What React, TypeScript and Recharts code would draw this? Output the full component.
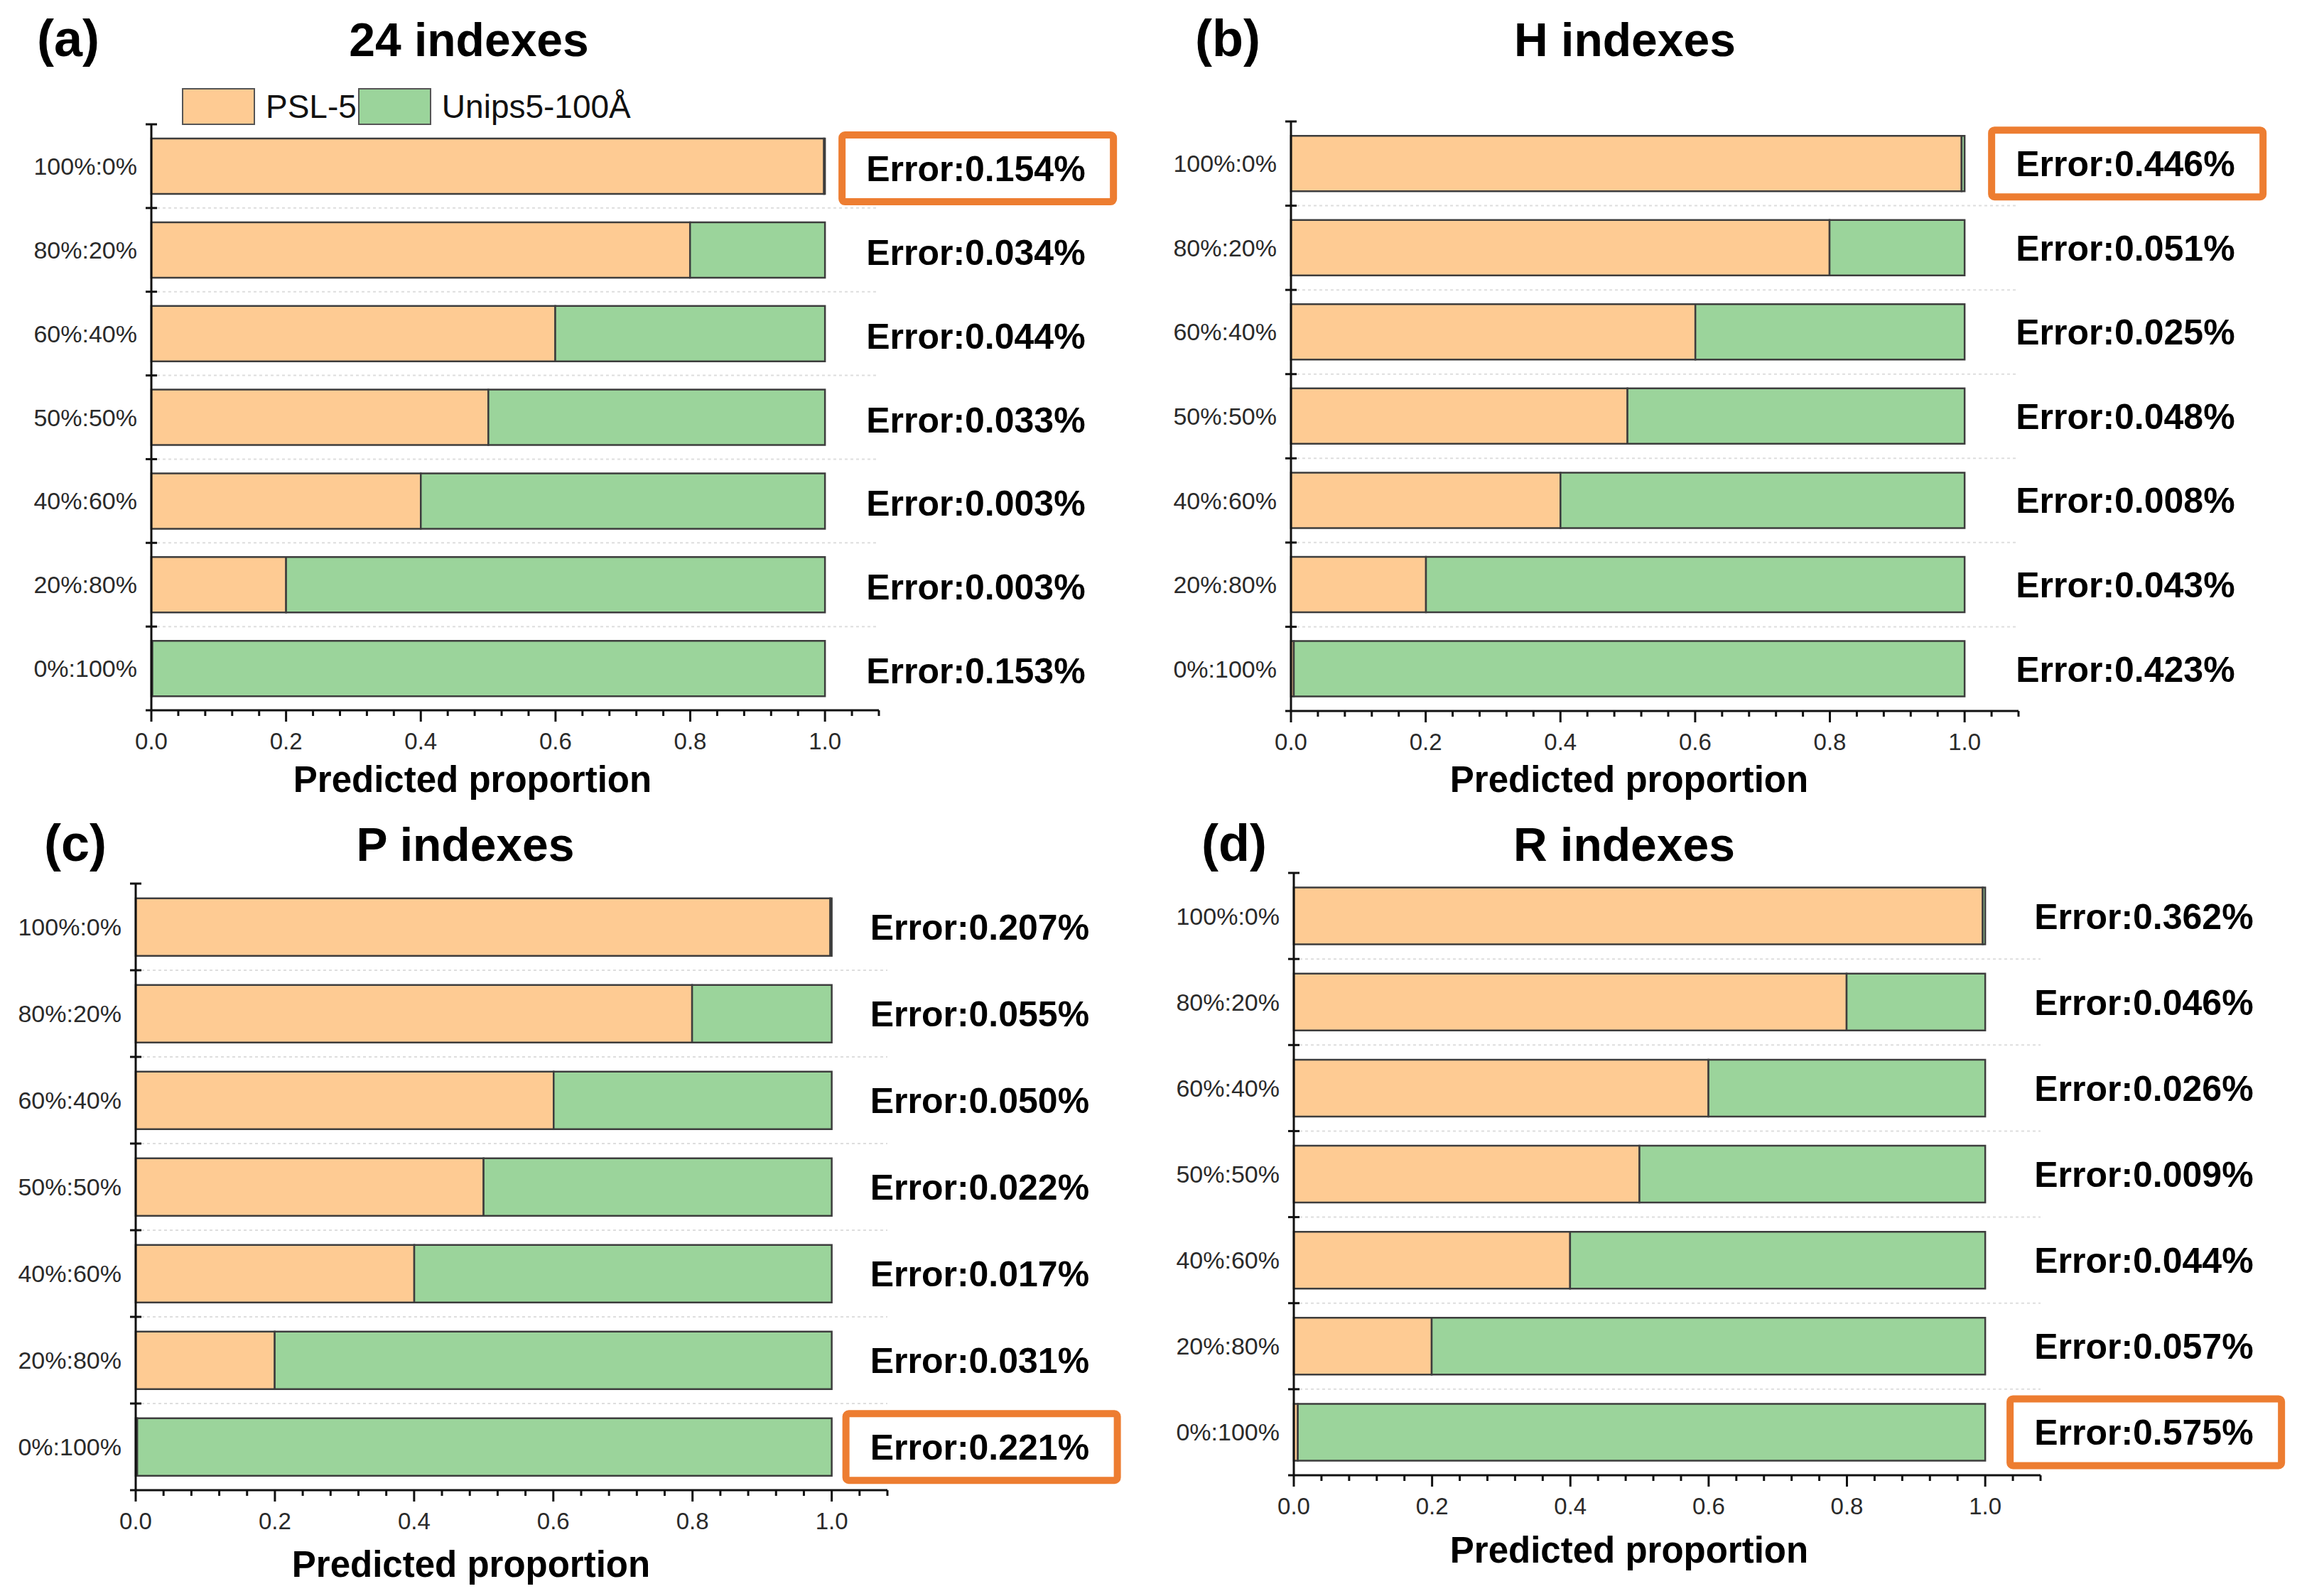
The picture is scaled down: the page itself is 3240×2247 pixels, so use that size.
import React from "react";
import { BarChart, Bar, XAxis, YAxis, CartesianGrid, LabelList, Legend } from "recharts";

// mixing ratios, top row first
const ratios = ["100%:0%", "80%:20%", "60%:40%", "50%:50%", "40%:60%", "20%:80%", "0%:100%"];

// predicted proportions and errors, one set per panel
const pslA = [0.9985, 0.7997, 0.5996, 0.5003, 0.4, 0.2, 0.0015];
const unipsA = [0.0015, 0.2003, 0.4004, 0.4997, 0.6, 0.8, 0.9985];
const errA = [0.154, 0.034, 0.044, 0.033, 0.003, 0.003, 0.153];

const pslB = [0.9955, 0.7995, 0.6003, 0.4995, 0.4001, 0.2004, 0.0042];
const unipsB = [0.0045, 0.2005, 0.3997, 0.5005, 0.5999, 0.7996, 0.9958];
const errB = [0.446, 0.051, 0.025, 0.048, 0.008, 0.043, 0.423];

const pslC = [0.9979, 0.7994, 0.6005, 0.4998, 0.4002, 0.1997, 0.0022];
const unipsC = [0.0021, 0.2006, 0.3995, 0.5002, 0.5998, 0.8003, 0.9978];
const errC = [0.207, 0.055, 0.05, 0.022, 0.017, 0.031, 0.221];

const pslD = [0.9964, 0.7995, 0.5997, 0.4999, 0.3996, 0.1994, 0.0058];
const unipsD = [0.0036, 0.2005, 0.4003, 0.5001, 0.6004, 0.8006, 0.9942];
const errD = [0.362, 0.046, 0.026, 0.009, 0.044, 0.057, 0.575];

const xTicks = [
  0, 0.04, 0.08, 0.12, 0.16, 0.2, 0.24, 0.28, 0.32, 0.36, 0.4, 0.44, 0.48, 0.52,
  0.56, 0.6, 0.64, 0.68, 0.72, 0.76, 0.8, 0.84, 0.88, 0.92, 0.96, 1.0, 1.04, 1.08,
];

const FONT = '"Liberation Sans", Arial, Helvetica, sans-serif';
const ORANGE = "#FECB93";
const GREEN = "#9BD49B";
const EDGE = "#3d3d3d";
const AXIS = "#111";
const HIGHLIGHT = "#ED7D31";

const Y_W = 190;
const M_TOP = 80;
const M_RIGHT = 360;
const X_H = 160;
const X_MAX = 1.08;

const XTick = (props: any) => {
  const { x, y, payload } = props;
  const v = payload.value;
  const major = Math.round(v * 100) % 20 === 0;
  return (
    <g>
      <line x1={x} x2={x} y1={y} y2={y + (major ? 16 : 8)} stroke={AXIS} strokeWidth={3} />
      {major && (
        <text x={x} y={y + 55} textAnchor="middle" fontSize={33} fill="#2a2a2a" fontFamily={FONT}>
          {v.toFixed(1)}
        </text>
      )}
    </g>
  );
};

const makeYTick = (band: number, n: number) => (props: any) => {
  const { x, y, payload, index } = props;
  const top = y - band / 2;
  return (
    <g>
      <line x1={x - 8} x2={x + 8} y1={top} y2={top} stroke={AXIS} strokeWidth={3} />
      {index === n - 1 && (
        <line x1={x - 8} x2={x} y1={y + band / 2} y2={y + band / 2} stroke={AXIS} strokeWidth={3} />
      )}
      <text x={x - 20} y={y + 12} textAnchor="end" fontSize={34} fill="#2a2a2a" fontFamily={FONT}>
        {payload.value}
      </text>
    </g>
  );
};

const makeErrLabel = (dx: number, dy: number, worst: number) => (props: any) => {
  const vb = props.viewBox || {};
  const x = props.x ?? vb.x;
  const y = props.y ?? vb.y;
  const w = props.width ?? vb.width;
  const h = props.height ?? vb.height;
  const tx = x + w + dx;
  const cy = y + h / 2 + dy;
  return (
    <g>
      {props.index === worst && (
        <rect x={tx - 34} y={cy - 47} width={382} height={94} rx={4} fill="none" stroke={HIGHLIGHT} strokeWidth={10} />
      )}
      <text x={tx} y={cy + 18} fontSize={50} fontWeight="bold" fontFamily={FONT} fill="#000">
        {`Error:${Number(props.value).toFixed(3)}%`}
      </text>
    </g>
  );
};

const LegendContent = (props: any) => (
  <div style={{ display: "flex", alignItems: "center", fontFamily: FONT, fontSize: 46, color: "#111", lineHeight: 1 }}>
    {(props.payload || []).map((e: any, i: number) => (
      <React.Fragment key={i}>
        <span
          style={{
            display: "inline-block",
            width: 103,
            height: 52,
            background: e.color,
            border: "2px solid #555",
            boxSizing: "border-box",
            marginLeft: i ? 2 : 0,
          }}
        />
        <span style={{ marginLeft: 15, whiteSpace: "nowrap" }}>{e.value}</span>
      </React.Fragment>
    ))}
  </div>
);

type PanelProps = {
  psl: number[];
  unips: number[];
  errors: number[];
  plotLeft: number;
  plotTop: number;
  plotBottom: number;
  unit: number;
  labelDx: number;
  labelDy: number;
  legend?: boolean;
};

function Panel(p: PanelProps) {
  const data = ratios.map((ratio, i) => ({ ratio, psl: p.psl[i], unips: p.unips[i], error: p.errors[i] }));
  const plotH = p.plotBottom - p.plotTop;
  const band = plotH / ratios.length;
  const width = Math.round(Y_W + X_MAX * p.unit + M_RIGHT);
  const height = M_TOP + plotH + X_H;
  const left = p.plotLeft - Y_W;
  const top = p.plotTop - M_TOP;
  const worst = p.errors.indexOf(Math.max(...p.errors));

  return (
    <div style={{ position: "absolute", left, top }}>
      <BarChart
        width={width}
        height={height}
        data={data}
        layout="vertical"
        margin={{ top: M_TOP, right: M_RIGHT, left: 0, bottom: 0 }}
        barCategoryGap="17%"
      >
        <CartesianGrid
          vertical={false}
          stroke="#dedede"
          strokeDasharray="4 4"
          strokeWidth={2}
          horizontalCoordinatesGenerator={({ offset }: any) =>
            ratios.slice(1).map((_, i) => offset.top + ((i + 1) * offset.height) / ratios.length)
          }
        />
        <XAxis
          type="number"
          domain={[0, X_MAX]}
          ticks={xTicks}
          interval={0}
          height={X_H}
          tickSize={0}
          tickMargin={0}
          tickLine={false}
          axisLine={{ stroke: AXIS, strokeWidth: 3 }}
          tick={<XTick />}
        />
        <YAxis
          type="category"
          dataKey="ratio"
          width={Y_W}
          interval={0}
          tickSize={0}
          tickMargin={0}
          tickLine={false}
          axisLine={{ stroke: AXIS, strokeWidth: 3 }}
          tick={makeYTick(band, ratios.length)}
        />
        {p.legend && (
          <Legend
            layout="horizontal"
            verticalAlign="middle"
            align="center"
            content={<LegendContent />}
            wrapperStyle={{ left: 256 - left, top: 124 - top, width: "auto", height: "auto" }}
          />
        )}
        <Bar dataKey="psl" name="PSL-5" stackId="s" fill={ORANGE} stroke={EDGE} strokeWidth={2.5} isAnimationActive={false} />
        <Bar dataKey="unips" name="Unips5-100Å" stackId="s" fill={GREEN} stroke={EDGE} strokeWidth={2.5} isAnimationActive={false}>
          <LabelList dataKey="error" content={makeErrLabel(p.labelDx, p.labelDy, worst)} />
        </Bar>
      </BarChart>
    </div>
  );
}

const heads = [
  { letter: "(a)", title: "24 indexes", letterX: 52, titleX: 660, base: 79, xlabelX: 665, xlabelBase: 1115 },
  { letter: "(b)", title: "H indexes", letterX: 1682, titleX: 2287, base: 79, xlabelX: 2293, xlabelBase: 1115 },
  { letter: "(c)", title: "P indexes", letterX: 62, titleX: 655, base: 1212, xlabelX: 663, xlabelBase: 2220 },
  { letter: "(d)", title: "R indexes", letterX: 1691, titleX: 2286, base: 1212, xlabelX: 2293, xlabelBase: 2200 },
];

export default function App() {
  return (
    <div
      style={{
        position: "absolute",
        left: 0,
        top: 0,
        width: 3240,
        height: 2247,
        background: "#fff",
        overflow: "hidden",
        fontFamily: FONT,
      }}
    >
      <Panel psl={pslA} unips={unipsA} errors={errA} plotLeft={213} plotTop={175} plotBottom={1000} unit={948} labelDx={58} labelDy={3} legend />
      <Panel psl={pslB} unips={unipsB} errors={errB} plotLeft={1817} plotTop={171} plotBottom={1001} unit={948} labelDx={72} labelDy={0} />
      <Panel psl={pslC} unips={unipsC} errors={errC} plotLeft={191} plotTop={1244} plotBottom={2098} unit={980} labelDx={54} labelDy={0} />
      <Panel psl={pslD} unips={unipsD} errors={errD} plotLeft={1821} plotTop={1229} plotBottom={2077} unit={973} labelDx={69} labelDy={0} />
      <svg width={3240} height={2247} style={{ position: "absolute", left: 0, top: 0, pointerEvents: "none" }}>
        {heads.map((h) => (
          <g key={h.letter} fontFamily={FONT} fontWeight="bold" fill="#000">
            <text x={h.letterX} y={h.base} fontSize={72}>{h.letter}</text>
            <text x={h.titleX} y={h.base} fontSize={66} textAnchor="middle">{h.title}</text>
            <text x={h.xlabelX} y={h.xlabelBase} fontSize={51} textAnchor="middle">Predicted proportion</text>
          </g>
        ))}
      </svg>
    </div>
  );
}
